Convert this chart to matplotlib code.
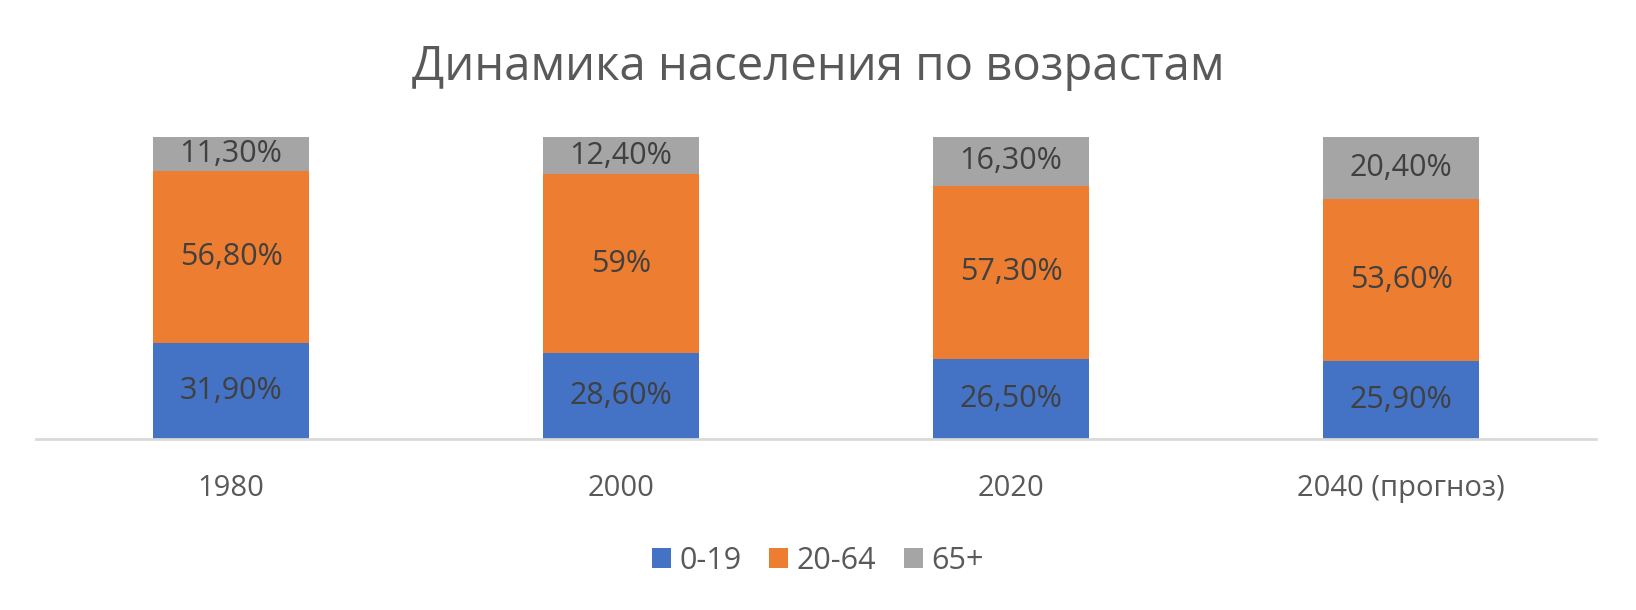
import numpy as np
import matplotlib.pyplot as plt
from matplotlib.patches import Patch

plt.rcParams['font.family'] = ['Open Sans', 'DejaVu Sans']

years = ['1980', '2000', '2020', '2040 (прогноз)']
age_groups = ['0-19', '20-64', '65+']
young = [31.9, 28.6, 26.5, 25.9]
working = [56.8, 59.0, 57.3, 53.6]
old = [11.3, 12.4, 16.3, 20.4]
colors = ['#4472C4', '#ED7D31', '#A5A5A5']


def fmt(v):
    # Excel-style percent labels with comma decimal
    if float(v).is_integer():
        return f"{int(v)}%"
    return f"{v:.2f}%".replace('.', ',')


fig = plt.figure(figsize=(16.36, 6.10), dpi=100)
ax = fig.add_axes([0.022, 0.2803, 0.9536, 0.4951])

x = np.arange(len(years))
bottom = np.zeros(len(years))
for series, color in zip([young, working, old], colors):
    vals = np.array(series)
    ax.bar(x, vals, width=0.4, bottom=bottom, color=color)
    for xi, b, v in zip(x, bottom, vals):
        ax.text(xi, b + v / 2, fmt(v), ha='center', va='center',
                fontsize=22, color='#404040')
    bottom = bottom + vals

ax.set_xlim(-0.5, len(years) - 0.5)
ax.set_ylim(0, 100)
ax.set_yticks([])
ax.set_xticks(x)
ax.set_xticklabels(years, fontsize=21, color='#595959')
ax.tick_params(axis='x', length=0, pad=25)
for s in ['top', 'right', 'left']:
    ax.spines[s].set_visible(False)
ax.spines['bottom'].set_color('#D9D9D9')
ax.spines['bottom'].set_linewidth(2)

fig.suptitle('Динамика населения по возрастам', x=0.5, y=0.89,
             fontsize=34, color='#595959', va='center')

handles = [Patch(facecolor=c, edgecolor='none') for c in colors]
fig.legend(handles, age_groups, loc='center', bbox_to_anchor=(0.5, 0.0803),
           ncol=3, frameon=False, fontsize=22, labelcolor='#595959',
           handlelength=0.62, handleheight=0.62, handletextpad=0.28,
           columnspacing=0.9)

fig.savefig('out.png', dpi=100)
